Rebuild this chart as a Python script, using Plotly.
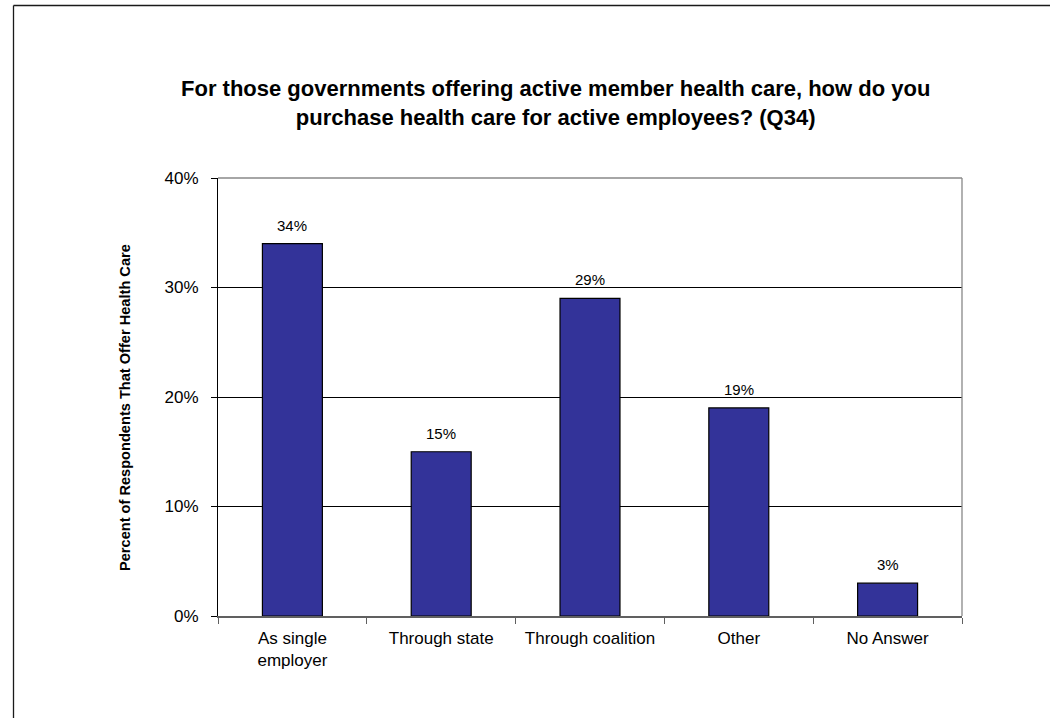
import plotly.graph_objects as go

# Survey responses (Q34)
categories = ["As single<br>employer", "Through state", "Through coalition", "Other", "No Answer"]
percent_values = [34, 15, 29, 19, 3]
y_tick_values = [0, 10, 20, 30, 40]
y_tick_labels = ["0%", "10%", "20%", "30%", "40%"]

title_text = ("For those governments offering active member health care, how do you<br>"
              "purchase health care for active employees? (Q34)")
y_title_text = "Percent of Respondents That Offer Health Care"

FONT = "Liberation Sans, Arial, sans-serif"
W, H = 1050, 718
L, R, T, B = 218, 962, 178, 616  # plot area in pixels


def px_x(px):
    return (px - L) / (R - L)


def px_y(py):
    return (B - py) / (B - T)


fig = go.Figure(
    go.Bar(
        x=categories,
        y=percent_values,
        marker=dict(color="#333399", line=dict(color="#000000", width=1.2)),
        width=0.403,
        hoverinfo="skip",
    )
)

annotations = []
# value labels above each bar
for cat, val in zip(categories, percent_values):
    annotations.append(dict(
        x=cat, y=val, xref="x", yref="y", text=f"{val}%",
        showarrow=False, yanchor="bottom", yshift=8,
        font=dict(family=FONT, size=15, color="#000000"),
    ))

# chart title
annotations.append(dict(
    x=px_x(555), y=px_y(74), xref="paper", yref="paper",
    text=f"<b>{title_text}</b>", showarrow=False,
    xanchor="center", yanchor="top", align="center",
    font=dict(family=FONT, size=22, color="#000000"),
))

# rotated value-axis title
annotations.append(dict(
    x=px_x(125), y=px_y(408), xref="paper", yref="paper",
    text=f"<b>{y_title_text}</b>", showarrow=False, textangle=-90,
    xanchor="center", yanchor="middle",
    font=dict(family=FONT, size=14.6, color="#000000"),
))

shapes = [
    # outer chart frame (left and top edges)
    dict(type="line", xref="paper", yref="paper",
         x0=px_x(13.5), x1=px_x(13.5), y0=px_y(5.5), y1=px_y(760),
         line=dict(color="#1a1a1a", width=1.3)),
    dict(type="line", xref="paper", yref="paper",
         x0=px_x(13.5), x1=px_x(1100), y0=px_y(5.5), y1=px_y(5.5),
         line=dict(color="#1a1a1a", width=1.3)),
    # plot-area border (top and right edges)
    dict(type="line", xref="paper", yref="paper", layer="above",
         x0=0, x1=1, y0=1, y1=1, line=dict(color="#888888", width=1.3)),
    dict(type="line", xref="paper", yref="paper", layer="above",
         x0=1, x1=1, y0=0, y1=1, line=dict(color="#888888", width=1.3)),
]

fig.update_layout(
    width=W, height=H,
    margin=dict(l=L, r=W - R, t=T, b=H - B, pad=0),
    paper_bgcolor="#ffffff", plot_bgcolor="#ffffff",
    showlegend=False,
    annotations=annotations,
    shapes=shapes,
    font=dict(family=FONT, color="#000000"),
)

fig.update_xaxes(
    type="category",
    showline=True, linecolor="#606060", linewidth=1.5,
    ticks="outside", tickson="boundaries", ticklen=6, tickcolor="#606060", tickwidth=1.3,
    ticklabelstandoff=6,
    tickfont=dict(family=FONT, size=17, color="#000000"),
    showgrid=False, zeroline=False,
)

fig.update_yaxes(
    range=[0, 40],
    tickmode="array", tickvals=y_tick_values, ticktext=y_tick_labels,
    showline=True, linecolor="#000000", linewidth=1.2,
    ticks="outside", ticklen=6, tickcolor="#000000", tickwidth=1.2,
    ticklabelstandoff=9,
    tickfont=dict(family=FONT, size=17, color="#000000"),
    showgrid=True, gridcolor="#000000", gridwidth=1,
    zeroline=False,
)

fig.write_html("out.html")
